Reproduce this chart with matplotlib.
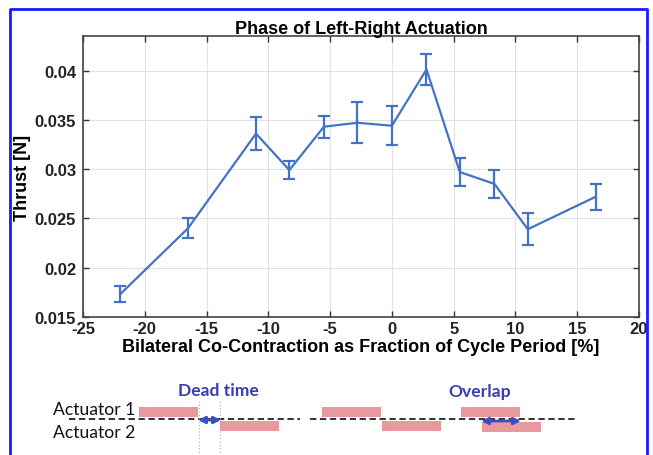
import matplotlib.pyplot as plt
from matplotlib.patches import Rectangle

# data
phase = [-22, -16.5, -11, -8.3, -5.5, -2.8, 0, 2.8, 5.5, 8.3, 11, 16.5]
thrust = [0.0173, 0.0240, 0.0336, 0.0299, 0.0343, 0.0347, 0.0344, 0.0401, 0.0297, 0.0285, 0.0239, 0.0272]
err = [0.0008, 0.0010, 0.0017, 0.0009, 0.0011, 0.0021, 0.0020, 0.0016, 0.0014, 0.0014, 0.0016, 0.0013]
xticks = [-25, -20, -15, -10, -5, 0, 5, 10, 15, 20]
yticks = [0.015, 0.02, 0.025, 0.03, 0.035, 0.04]
ytick_labels = ['0.015', '0.02', '0.025', '0.03', '0.035', '0.04']

W, H = 653, 456
fig = plt.figure(figsize=(W / 100, H / 100), dpi=100)
plt.rcParams['font.family'] = ['Liberation Sans', 'DejaVu Sans']

### main plot
ax = fig.add_axes([83 / W, 1 - 318 / H, 556 / W, 281 / H])
ax.errorbar(phase, thrust, yerr=err, color='#4472c4', lw=1.6,
            elinewidth=1.6, capsize=4.5, capthick=1.6)
ax.set_xlim(-25, 20)
ax.set_ylim(0.015, 0.0435)
ax.set_xticks(xticks)
ax.set_xticklabels([str(t) for t in xticks])
ax.set_yticks(yticks)
ax.set_yticklabels(ytick_labels)
ax.grid(True, color='#e2e2e2', lw=0.8)
ax.set_axisbelow(True)
ax.tick_params(direction='in', top=True, right=True, length=4, width=1,
               labelsize=12, color='#333333')
ax.tick_params(axis='x', pad=3)
ax.tick_params(axis='y', pad=5)
for lab in ax.get_xticklabels() + ax.get_yticklabels():
    lab.set_fontweight('bold')
    lab.set_color('#222222')
for s in ax.spines.values():
    s.set_color('#444444')
    s.set_linewidth(1.2)
ax.set_title('Phase of Left-Right Actuation', fontsize=13, fontweight='bold', pad=2)
ax.set_xlabel('Bilateral Co-Contraction as Fraction of Cycle Period [%]',
              fontsize=13, fontweight='bold', labelpad=1)
ax.set_ylabel('Thrust [N]', fontsize=13, fontweight='bold', labelpad=3)

### schematic below (pixel coordinates)
sk = fig.add_axes([0, 0, 1, 1], facecolor='none')
sk.set_xlim(0, W)
sk.set_ylim(H, 0)
sk.set_axis_off()

# frame
sk.plot([10, 10, 647, 647], [H + 5, 10, 10, H + 5], color='#1a1aff', lw=2)

pink = '#e8999e'
bars = [(139, 408, 59, 10), (220, 422, 59, 10),
        (322, 408, 59, 10), (382, 422, 59, 10),
        (461, 408, 59, 10), (482, 423, 59, 10)]
for x0, y0, w, h in bars:
    sk.add_patch(Rectangle((x0, y0), w, h, color=pink, lw=0))

sk.plot([69, 300], [420, 420], ls=(0, (3.5, 2)), color='#222222', lw=1.3)
sk.plot([310, 575], [420, 420], ls=(0, (3.5, 2)), color='#222222', lw=1.3)

for xv in [199, 220]:
    sk.plot([xv, xv], [402, 460], ls=(0, (1, 2)), color='#aaaaaa', lw=0.8)

arrow_col = '#3b4fc0'
sk.annotate('', xy=(198, 421), xytext=(221, 421),
            arrowprops=dict(arrowstyle='<|-|>', color=arrow_col, lw=2,
                            mutation_scale=10, shrinkA=0, shrinkB=0))
sk.annotate('', xy=(481, 422), xytext=(521, 422),
            arrowprops=dict(arrowstyle='<|-|>', color=arrow_col, lw=2,
                            mutation_scale=10, shrinkA=0, shrinkB=0))

sk.text(94, 410, 'Actuator 1', fontsize=12.6, family=['Lato', 'DejaVu Sans'],
        ha='center', va='center', color='#111111')
sk.text(94, 433, 'Actuator 2', fontsize=12.6, family=['Lato', 'DejaVu Sans'],
        ha='center', va='center', color='#111111')
sk.text(218, 391, 'Dead time', fontsize=12.6, family=['Lato', 'DejaVu Sans'],
        fontweight='bold', ha='center', va='center', color='#3c3cb0')
sk.text(480, 392, 'Overlap', fontsize=12.6, family=['Lato', 'DejaVu Sans'],
        fontweight='bold', ha='center', va='center', color='#3c3cb0')

fig.savefig('out.png', dpi=100)
